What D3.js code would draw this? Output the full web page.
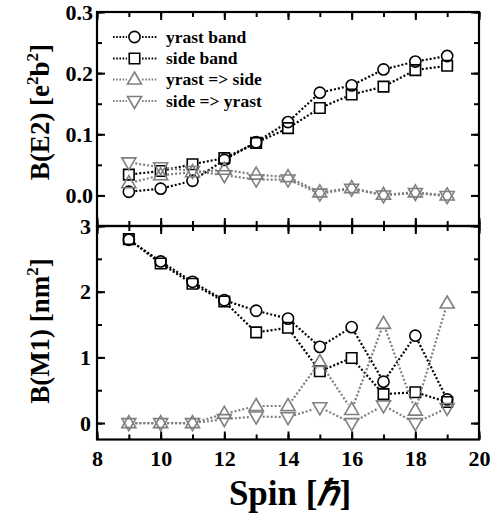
<!DOCTYPE html>
<html>
<head>
<meta charset="utf-8">
<script src="https://cdn.jsdelivr.net/npm/d3@7"></script>
<style>
  body { margin: 0; background: #fff; }
</style>
</head>
<body>
<svg id="chart" width="493" height="518"></svg>
<script>
// ---------------------------------------------------------------- //
// Data

var spin = [9, 10, 11, 12, 13, 14, 15, 16, 17, 18, 19];

// B(E2) [e^2 b^2]
var e2_yrast      = [0.006, 0.011, 0.024, 0.058, 0.087, 0.120, 0.168, 0.180, 0.206, 0.219, 0.228];
var e2_side       = [0.034, 0.040, 0.051, 0.061, 0.086, 0.110, 0.143, 0.165, 0.178, 0.205, 0.212];
var e2_yrast2side = [0.020, 0.033, 0.038, 0.042, 0.034, 0.030, 0.005, 0.012, 0.001, 0.005, 0.000];
var e2_side2yrast = [0.054, 0.046, 0.040, 0.033, 0.026, 0.026, 0.003, 0.011, 0.000, 0.004, -0.001];

// B(M1) [nm^2]
var m1_yrast      = [2.79, 2.46, 2.15, 1.87, 1.71, 1.59, 1.16, 1.46, 0.63, 1.33, 0.36];
var m1_side       = [2.80, 2.43, 2.12, 1.85, 1.38, 1.45, 0.79, 0.99, 0.44, 0.47, 0.32];
var m1_yrast2side = [0.00, 0.00, 0.00, 0.14, 0.26, 0.26, 0.93, 0.20, 1.51, 0.19, 1.82];
var m1_side2yrast = [0.00, 0.00, 0.00, 0.06, 0.10, 0.09, 0.24, 0.00, 0.27, 0.00, 0.23];

var legendNames = ['yrast band', 'side band', 'yrast => side', 'side => yrast'];

var xTicks = [8, 10, 12, 14, 16, 18, 20];
var e2Ticks = [0.0, 0.1, 0.2, 0.3];
var m1Ticks = [0, 1, 2, 3];

// ---------------------------------------------------------------- //
// Setup

var FONT = '"Liberation Serif", "Times New Roman", Times, serif';
var svg = d3.select('#chart');
var left = 97, right = 479, top_ = 12, mid = 226, bottom = 439.5;
var gray = '#7f7f7f';

var x = d3.scaleLinear().domain([8, 20]).range([left, right]);
var yTop = d3.scaleLinear().domain([-0.05, 0.3]).range([mid, top_]);
var yBot = d3.scaleLinear().domain([-0.25, 3]).range([bottom, mid]);

var series = [
  { name: legendNames[0], shape: 'circle', color: '#000' },
  { name: legendNames[1], shape: 'square', color: '#000' },
  { name: legendNames[2], shape: 'up',     color: gray },
  { name: legendNames[3], shape: 'down',   color: gray }
];

function markerPath(shape){
  if(shape === 'circle') return d3.symbol().type(d3.symbolCircle).size(Math.PI*5.6*5.6)();
  if(shape === 'square') return d3.symbol().type(d3.symbolSquare).size(10.5*10.5)();
  if(shape === 'up') return 'M0,-7.5L7,4.5L-7,4.5Z';
  return 'M0,7.5L7,-4.5L-7,-4.5Z';
}

// dotted segments that stop short of each marker
function gapSegments(pts, gap){
  var segs = [];
  for(var i = 0; i < pts.length - 1; i++){
    var a = pts[i], b = pts[i+1];
    var dx = b[0]-a[0], dy = b[1]-a[1], d = Math.sqrt(dx*dx+dy*dy);
    if(d <= 2*gap) continue;
    var ux = dx/d, uy = dy/d;
    segs.push([[a[0]+ux*gap, a[1]+uy*gap], [b[0]-ux*gap, b[1]-uy*gap]]);
  }
  return segs;
}

var line_gen = d3.line();

function drawPanel(yScale, values){
  var g = svg.append('g');
  series.forEach(function(s, k){
    var pts = spin.map(function(sp, i){ return [x(sp), yScale(values[k][i])]; });
    g.selectAll(null).data(gapSegments(pts, 6.5)).enter().append('path')
      .attr('d', line_gen)
      .attr('fill', 'none').attr('stroke', s.color)
      .attr('stroke-width', 2.2).attr('stroke-dasharray', '2,2');
    g.selectAll(null).data(pts).enter().append('path')
      .attr('d', markerPath(s.shape))
      .attr('transform', function(d){ return 'translate(' + d[0] + ',' + d[1] + ')'; })
      .attr('fill', 'none').attr('stroke', s.color).attr('stroke-width', 1.6);
  });
}

drawPanel(yTop, [e2_yrast, e2_side, e2_yrast2side, e2_side2yrast]);
drawPanel(yBot, [m1_yrast, m1_side, m1_yrast2side, m1_side2yrast]);

// ---------------------------------------------------------------- //
// Axes

function addAxis(axis, tx, ty){
  var g = svg.append('g').attr('transform', 'translate(' + tx + ',' + ty + ')').call(axis);
  g.select('.domain').remove();
  g.selectAll('.tick line').attr('stroke', '#000').attr('stroke-width', 2);
  g.selectAll('text').attr('fill', '#000')
    .style('font-family', FONT).style('font-weight', 'bold').style('font-size', '22px');
  return g;
}

var minorX = d3.range(8, 21, 1);

// x axes (ticks inward)
[[top_, 'top'], [mid, 'bottomOfTop'], [mid, 'topOfBot'], [bottom, 'bottom']].forEach(function(p){
  var major, minor;
  if(p[1] === 'top' || p[1] === 'topOfBot'){
    major = d3.axisTop(x).tickValues(xTicks).tickSize(-8).tickFormat('');
    minor = d3.axisTop(x).tickValues(minorX).tickSize(-5).tickFormat('');
  } else {
    major = d3.axisBottom(x).tickValues(xTicks).tickSize(-8).tickPadding(11)
      .tickFormat(p[1] === 'bottom' ? d3.format('d') : '');
    minor = d3.axisBottom(x).tickValues(minorX).tickSize(-5).tickFormat('');
  }
  addAxis(minor, 0, p[0]);
  addAxis(major, 0, p[0]);
});

// y axes
addAxis(d3.axisLeft(yTop).tickValues(d3.range(0, 0.31, 0.05)).tickSize(-5).tickFormat(''), left, 0);
addAxis(d3.axisLeft(yTop).tickValues(e2Ticks).tickSize(-8).tickPadding(4).tickFormat(d3.format('.1f')), left, 0);
addAxis(d3.axisRight(yTop).tickValues(d3.range(0, 0.31, 0.05)).tickSize(-5).tickFormat(''), right, 0);
addAxis(d3.axisRight(yTop).tickValues(e2Ticks).tickSize(-8).tickFormat(''), right, 0);

addAxis(d3.axisLeft(yBot).tickValues(d3.range(0, 3.01, 0.5)).tickSize(-5).tickFormat(''), left, 0);
addAxis(d3.axisLeft(yBot).tickValues(m1Ticks).tickSize(-8).tickPadding(6).tickFormat(d3.format('d')), left, 0);
addAxis(d3.axisRight(yBot).tickValues(d3.range(0, 3.01, 0.5)).tickSize(-5).tickFormat(''), right, 0);
addAxis(d3.axisRight(yBot).tickValues(m1Ticks).tickSize(-8).tickFormat(''), right, 0);

// frames
svg.append('rect').attr('x', left).attr('y', top_).attr('width', right-left).attr('height', mid-top_)
  .attr('fill', 'none').attr('stroke', '#000').attr('stroke-width', 2.2);
svg.append('rect').attr('x', left).attr('y', mid).attr('width', right-left).attr('height', bottom-mid)
  .attr('fill', 'none').attr('stroke', '#000').attr('stroke-width', 2.2);

// ---------------------------------------------------------------- //
// Titles

function title(){
  return svg.append('text').attr('text-anchor', 'middle').attr('fill', '#000')
    .style('font-family', FONT).style('font-weight', 'bold');
}

var t1 = title().attr('transform', 'translate(49,112) rotate(-90)').style('font-size', '27px');
t1.append('tspan').text('B(E2) [e');
t1.append('tspan').attr('dy', -11).style('font-size', '17px').text('2');
t1.append('tspan').attr('dy', 11).text('b');
t1.append('tspan').attr('dy', -11).style('font-size', '17px').text('2');
t1.append('tspan').attr('dy', 11).text(']');

var t2 = title().attr('transform', 'translate(49,331) rotate(-90)').style('font-size', '27px');
t2.append('tspan').text('B(M1) [nm');
t2.append('tspan').attr('dy', -11).style('font-size', '17px').text('2');
t2.append('tspan').attr('dy', 11).text(']');

var t3 = title().attr('x', 290).attr('y', 505).style('font-size', '35px');
t3.append('tspan').text('Spin [');
t3.append('tspan').style('font-style', 'italic').text('\u210F');
t3.append('tspan').text(']');

// ---------------------------------------------------------------- //
// Legend

var legendY = [37, 58.5, 79.5, 101];
series.forEach(function(s, k){
  var g = svg.append('g').attr('transform', 'translate(0,' + legendY[k] + ')');
  [[113, 127], [142, 157]].forEach(function(seg){
    g.append('line').attr('x1', seg[0]).attr('x2', seg[1]).attr('y1', 0).attr('y2', 0)
      .attr('stroke', s.color).attr('stroke-width', 2).attr('stroke-dasharray', '1.6,1.6');
  });
  g.append('path').attr('d', markerPath(s.shape)).attr('transform', 'translate(134.5,0)')
    .attr('fill', 'none').attr('stroke', s.color).attr('stroke-width', 1.6);
  g.append('text').attr('x', 166).attr('y', 0).attr('dy', '0.33em').attr('fill', '#000')
    .style('font-family', FONT).style('font-weight', 'bold').style('font-size', '17.5px')
    .text(s.name);
});
</script>
</body>
</html>
